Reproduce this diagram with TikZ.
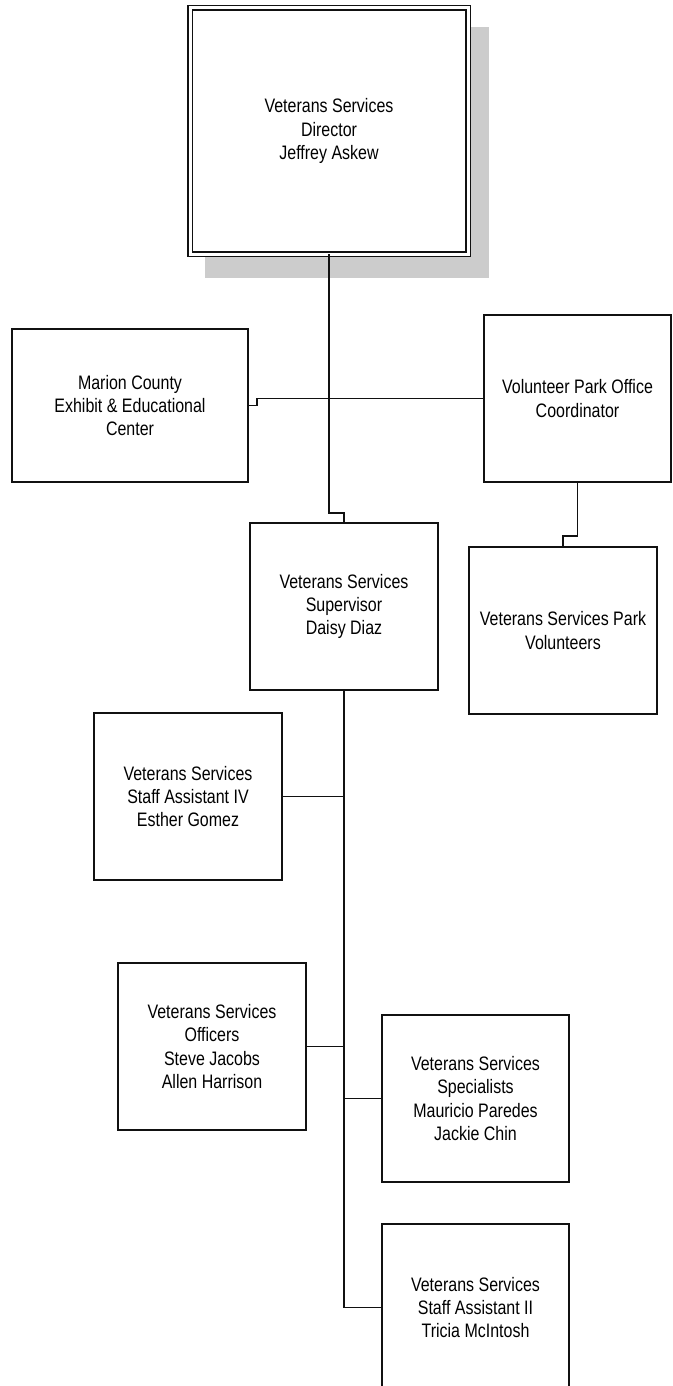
\documentclass[tikz,border=0pt]{standalone}
\usepackage{fontspec}
\setmainfont{Liberation Sans}[FakeStretch=0.82]
\definecolor{shadowgray}{HTML}{CCCCCC}
\definecolor{linecol}{HTML}{111111}
\tikzset{
  orgbox/.style={draw=linecol, line width=1.5pt, fill=white, inner sep=0pt, outer sep=0pt,
    align=center, minimum width=188pt, minimum height=167pt,
    font=\fontsize{19.5}{23.3}\selectfont},
  topbox/.style={orgbox, double=white, double distance=3.0pt, line width=1.4pt,
    minimum width=278pt, minimum height=246pt},
  link/.style={draw=linecol, line width=1.9pt}
}
\begin{document}
\begin{tikzpicture}[x=1pt,y=-1pt]
\clip (0,0) rectangle (672,1386);
\fill[white] (0,0) rectangle (672,1386);
% shadow of the director box
\fill[shadowgray] (205,27) rectangle (489,278);
\node[topbox] (dir) at (329,131) {Veterans Services\\Director\\Jeffrey Askew};
\node[orgbox, minimum width=236pt, minimum height=153pt] (mar) at (130,405.5) {Marion County\\Exhibit \& Educational\\Center};
\node[orgbox, minimum width=187pt] (vol) at (577.5,398.5) {Volunteer Park Office\\Coordinator};
\node[orgbox] (sup) at (344,606.5) {Veterans Services\\Supervisor\\Daisy Diaz};
\node[orgbox] (park) at (563,630.5) {Veterans Services Park\\Volunteers};
\node[orgbox] (sa4) at (188,796.5) {Veterans Services\\Staff Assistant IV\\Esther Gomez};
\node[orgbox] (off) at (212,1046.5) {Veterans Services\\Officers\\Steve Jacobs\\Allen Harrison};
\node[orgbox, minimum width=187pt] (spec) at (475.5,1098.5) {Veterans Services\\Specialists\\Mauricio Paredes\\Jackie Chin};
\node[orgbox, minimum width=187pt] (sa2) at (475.5,1307.5) {Veterans Services\\Staff Assistant II\\Tricia McIntosh};
% connector coordinates
\coordinate (j1) at (329,513);
\coordinate (hbL) at (257,398.5);
\coordinate (vp) at (577.5,536);
% connectors
\draw[link] (dir.south) -- (j1) -| (sup.north);
\draw[link] (mar.east) -| (hbL) -- (vol.west);
\draw[link] (vol.south) -- (vp) -| (park.north);
\draw[link] (sup.south) -- (sup.south |- sa2.west) -- (sa2.west);
\draw[link] (sa4.east) -- (sa4.east -| sup.south);
\draw[link] (off.east) -- (off.east -| sup.south);
\draw[link] (spec.west) -- (spec.west -| sup.south);
\end{tikzpicture}
\end{document}
